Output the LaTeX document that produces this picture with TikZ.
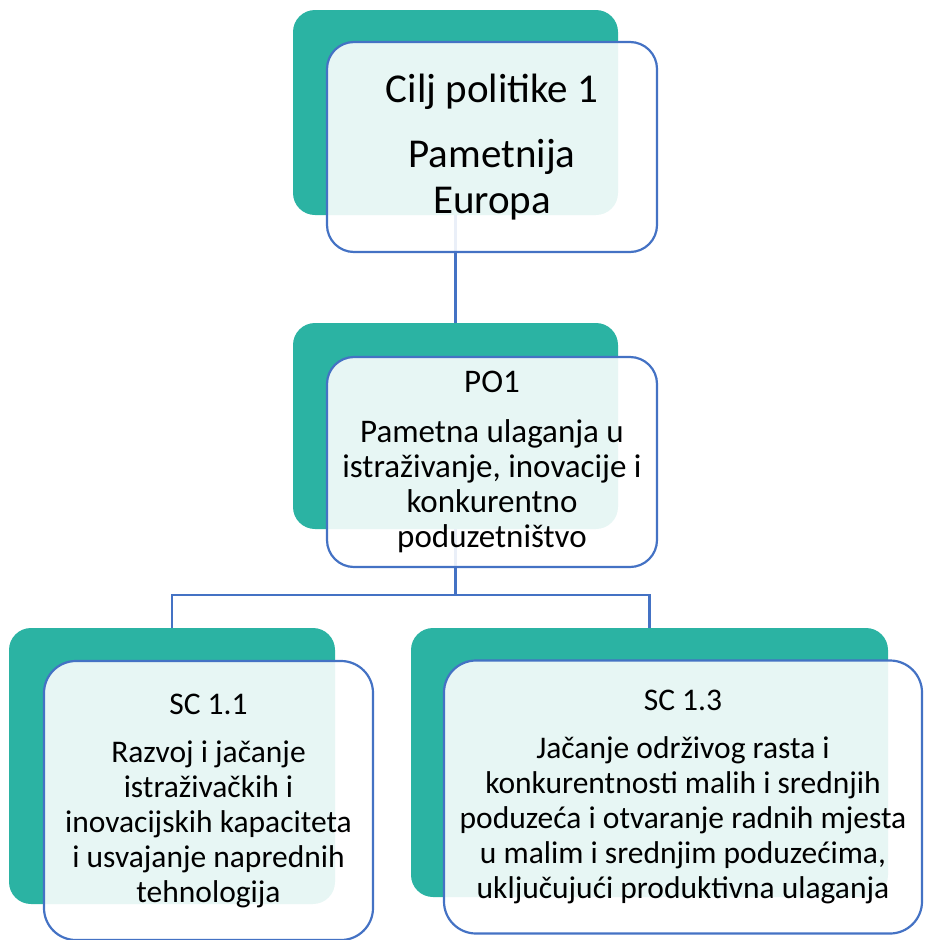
\documentclass[tikz,border=0pt]{standalone}
\usepackage{fontspec}
\setmainfont{Carlito}
\usetikzlibrary{positioning}

\definecolor{polgreen}{HTML}{2BB3A3}
\definecolor{polblue}{HTML}{4472C4}

\begin{document}
\begin{tikzpicture}[x=1pt,y=-1pt,
    back/.style={fill=polgreen, rounded corners=22pt, inner sep=0pt},
    front/.style={draw=polblue, line width=2.2pt, fill=white, fill opacity=0.89,
        text opacity=1, rounded corners=27pt, inner sep=0pt, align=center},
    link/.style={draw=polblue, line width=2.2pt}]

\useasboundingbox (0,0) rectangle (938,940);

\coordinate (split) at (455.5,595);

% back boxes
\node [back, minimum width=325pt, minimum height=205pt] (cilj) at (455.5,112.5) {};
\node [back, minimum width=325pt, minimum height=206pt] (po1) at (455.5,426) {};
\node [back, minimum width=326pt, minimum height=276pt] (sc11) at (172,766) {};
\node [back, minimum width=477pt, minimum height=269pt] (sc13) at (649.5,762.5) {};

% connectors
\draw [link] (cilj.south) -- (po1.north);
\draw [link] (po1.south) -- (split) -| (sc11.north);
\draw [link] (split) -| (sc13.north);

% front boxes
\node [front, minimum width=330pt, minimum height=210pt,
    font={\fontsize{41}{46}\selectfont}] (ciljtxt) at (492,147)
    {Cilj politike 1\\[19pt] Pametnija\\ Europa};

\node [front, minimum width=330pt, minimum height=210pt,
    font={\fontsize{33}{35}\selectfont}] (po1txt) at (492,462)
    {PO1\\[15pt] Pametna ulaganja u\\ istraživanje, inovacije i\\ konkurentno\\ poduzetništvo};

\node [front, minimum width=329pt, minimum height=279pt, rounded corners=32pt,
    font={\fontsize{31.5}{35}\selectfont}] (sc11txt) at (208.5,800.5)
    {SC 1.1\\[13pt] Razvoj i jačanje\\ istraživačkih i\\ inovacijskih kapaciteta\\ i usvajanje naprednih\\ tehnologija};

\node [front, minimum width=478pt, minimum height=273pt, rounded corners=32pt,
    font={\fontsize{31.5}{35}\selectfont}] (sc13txt) at (683,797)
    {SC 1.3\\[13pt] Jačanje održivog rasta i\\ konkurentnosti malih i srednjih\\ poduzeća i otvaranje radnih mjesta\\ u malim i srednjim poduzećima,\\ uključujući produktivna ulaganja};

\end{tikzpicture}
\end{document}
